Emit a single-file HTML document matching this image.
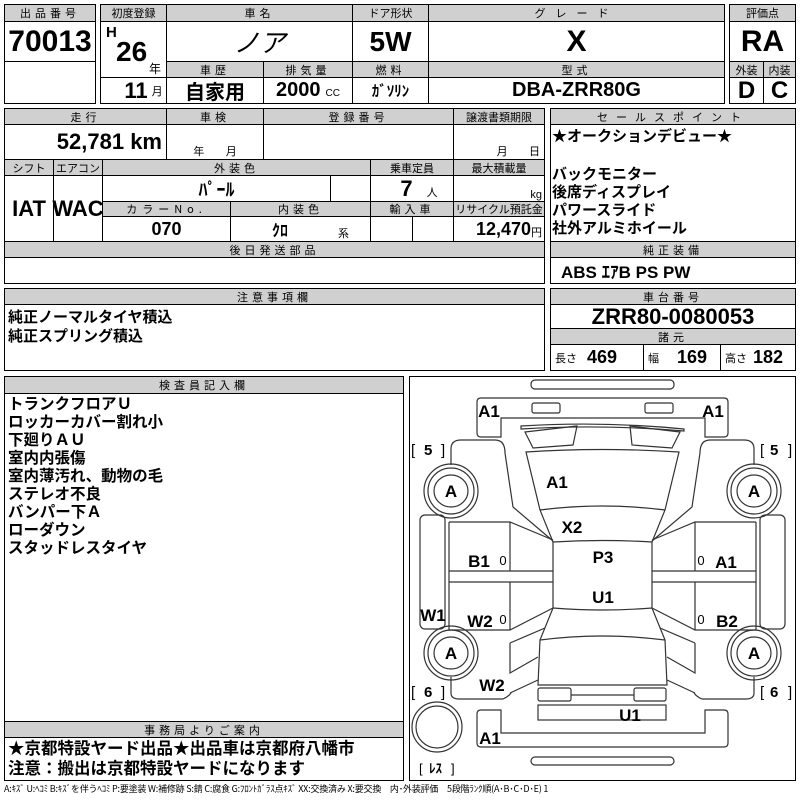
<!DOCTYPE html>
<html><head><meta charset="utf-8"><style>
*{box-sizing:border-box;margin:0;padding:0}
body{width:800px;height:800px;background:#fff;position:relative;overflow:hidden;font-family:"Liberation Sans","Noto Sans CJK JP",sans-serif;color:#000}
.c{position:absolute;border:1px solid #000;display:flex;align-items:center;justify-content:center;background:#fff}
.h{background:#d0d0d0;font-size:11px;letter-spacing:4px;font-family:"Noto Sans CJK JP",sans-serif}
.n{font-family:"Liberation Sans Narrow","Liberation Sans","Noto Sans CJK JP",sans-serif;font-weight:bold}
.j{font-family:"Liberation Sans","Noto Sans CJK JP",sans-serif;font-weight:bold}
.t{position:absolute;white-space:nowrap}
</style></head><body>
<!-- top -->
<div class="c h" style="left:4px;top:4px;width:92px;height:18px">出品番号</div>
<div class="c n" style="left:4px;top:21px;width:92px;height:41px;font-size:30px">70013</div>
<div class="c" style="left:4px;top:61px;width:92px;height:43px"></div>

<div class="c h" style="left:100px;top:4px;width:67px;height:18px;letter-spacing:0">初度登録</div>
<div class="c h" style="left:166px;top:4px;width:187px;height:18px">車名</div>
<div class="c h" style="left:352px;top:4px;width:77px;height:18px;letter-spacing:0">ドア形状</div>
<div class="c h" style="left:428px;top:4px;width:297px;height:18px;letter-spacing:10px">グレード</div>
<div class="c" style="left:100px;top:21px;width:67px;height:57px"></div>
<div class="t n" style="left:106px;top:24px;font-size:15px">H</div>
<div class="t n" style="left:116px;top:36px;font-size:28px">26</div>
<div class="t j" style="left:149px;top:60px;font-size:12px;font-weight:normal">年</div>
<div class="c" style="left:100px;top:77px;width:67px;height:27px"><span class="n" style="font-size:22px;margin-left:20px">11</span><span style="font-size:11px;margin-left:4px">月</span></div>
<div class="c j" style="left:166px;top:21px;width:187px;height:41px;font-size:26px;font-style:italic;font-weight:normal">ノア</div>
<div class="c n" style="left:352px;top:21px;width:77px;height:41px;font-size:28px">5W</div>
<div class="c n" style="left:428px;top:21px;width:297px;height:41px;font-size:30px">X</div>
<div class="c h" style="left:166px;top:61px;width:98px;height:17px">車歴</div>
<div class="c h" style="left:263px;top:61px;width:90px;height:17px">排気量</div>
<div class="c h" style="left:352px;top:61px;width:77px;height:17px">燃料</div>
<div class="c h" style="left:428px;top:61px;width:297px;height:17px">型式</div>
<div class="c j" style="left:166px;top:77px;width:98px;height:27px;font-size:20px">自家用</div>
<div class="c" style="left:263px;top:77px;width:90px;height:27px"><span class="n" style="font-size:20px">2000</span><span style="font-size:10px;margin-left:5px;margin-top:6px">CC</span></div>
<div class="c j" style="left:352px;top:77px;width:77px;height:27px;font-size:15px">ｶﾞｿﾘﾝ</div>
<div class="c n" style="left:428px;top:77px;width:297px;height:27px;font-size:20px">DBA-ZRR80G</div>
<div class="c h" style="left:729px;top:4px;width:67px;height:18px;letter-spacing:0">評価点</div>
<div class="c n" style="left:729px;top:21px;width:67px;height:41px;font-size:30px">RA</div>
<div class="c h" style="left:729px;top:61px;width:35px;height:17px;letter-spacing:0">外装</div>
<div class="c h" style="left:763px;top:61px;width:33px;height:17px;letter-spacing:0">内装</div>
<div class="c n" style="left:729px;top:77px;width:35px;height:27px;font-size:24px">D</div>
<div class="c n" style="left:763px;top:77px;width:33px;height:27px;font-size:24px">C</div>

<!-- middle -->
<div class="c h" style="left:4px;top:108px;width:163px;height:17px">走行</div>
<div class="c h" style="left:166px;top:108px;width:98px;height:17px">車検</div>
<div class="c h" style="left:263px;top:108px;width:191px;height:17px">登録番号</div>
<div class="c h" style="left:453px;top:108px;width:92px;height:17px;letter-spacing:0">譲渡書類期限</div>
<div class="c" style="left:4px;top:124px;width:163px;height:36px;justify-content:flex-end;padding-right:4px"><span class="n" style="font-size:22px">52,781 km</span></div>
<div class="c" style="left:166px;top:124px;width:98px;height:36px;align-items:flex-end;font-size:11px">年&nbsp;&nbsp;&nbsp;&nbsp;&nbsp;&nbsp;&nbsp;月</div>
<div class="c" style="left:263px;top:124px;width:191px;height:36px"></div>
<div class="c" style="left:453px;top:124px;width:92px;height:36px;align-items:flex-end;justify-content:flex-end;padding-right:4px;font-size:11px">月&nbsp;&nbsp;&nbsp;&nbsp;&nbsp;&nbsp;&nbsp;日</div>
<div class="c h" style="left:4px;top:159px;width:50px;height:17px;letter-spacing:0">シフト</div>
<div class="c h" style="left:53px;top:159px;width:50px;height:17px;letter-spacing:0">エアコン</div>
<div class="c h" style="left:102px;top:159px;width:269px;height:17px">外装色</div>
<div class="c h" style="left:370px;top:159px;width:84px;height:17px;letter-spacing:0">乗車定員</div>
<div class="c h" style="left:453px;top:159px;width:92px;height:17px;letter-spacing:0">最大積載量</div>
<div class="c n" style="left:4px;top:175px;width:50px;height:67px;font-size:22px">IAT</div>
<div class="c n" style="left:53px;top:175px;width:50px;height:67px;font-size:22px">WAC</div>
<div class="c j" style="left:102px;top:175px;width:229px;height:27px;font-size:18px">ﾊﾟｰﾙ</div>
<div class="c" style="left:330px;top:175px;width:41px;height:27px"></div>
<div class="c" style="left:370px;top:175px;width:84px;height:27px"><span class="n" style="font-size:22px;margin-left:14px">7</span><span style="font-size:11px;margin-left:14px;margin-top:6px">人</span></div>
<div class="c" style="left:453px;top:175px;width:92px;height:27px;justify-content:flex-end;align-items:flex-end;padding-right:2px;font-size:11px">kg</div>
<div class="c h" style="left:102px;top:201px;width:129px;height:16px;letter-spacing:5px">カラーNo.</div>
<div class="c h" style="left:230px;top:201px;width:141px;height:16px">内装色</div>
<div class="c h" style="left:370px;top:201px;width:84px;height:16px">輸入車</div>
<div class="c h" style="left:453px;top:201px;width:92px;height:16px;letter-spacing:0">リサイクル預託金</div>
<div class="c n" style="left:102px;top:216px;width:129px;height:26px;font-size:18px">070</div>
<div class="c" style="left:230px;top:216px;width:141px;height:26px"><span class="j" style="font-size:16px;margin-left:20px">ｸﾛ</span><span style="font-size:11px;margin-left:50px;margin-top:8px">系</span></div>
<div class="c" style="left:370px;top:216px;width:43px;height:26px"></div>
<div class="c" style="left:412px;top:216px;width:42px;height:26px"></div>
<div class="c" style="left:453px;top:216px;width:92px;height:26px;justify-content:flex-end;padding-right:2px"><span class="n" style="font-size:18px">12,470</span><span style="font-size:11px;margin-top:6px">円</span></div>
<div class="c h" style="left:4px;top:241px;width:541px;height:17px">後日発送部品</div>
<div class="c" style="left:4px;top:257px;width:541px;height:27px"></div>

<div class="c h" style="left:550px;top:108px;width:246px;height:17px;letter-spacing:8px">セールスポイント</div>
<div class="c" style="left:550px;top:124px;width:246px;height:118px"></div>
<div class="t j" style="left:552px;top:128px;font-size:15px;line-height:18px">★オークションデビュー★</div>
<div class="t j" style="left:552px;top:166px;font-size:15px;line-height:18px">バックモニター<br>後席ディスプレイ<br>パワースライド<br>社外アルミホイール</div>
<div class="c h" style="left:550px;top:241px;width:246px;height:17px">純正装備</div>
<div class="c" style="left:550px;top:257px;width:246px;height:27px;justify-content:flex-start;padding-left:10px"><span class="n" style="font-size:17px">ABS ｴｱB PS PW</span></div>

<!-- third -->
<div class="c h" style="left:4px;top:288px;width:541px;height:17px">注意事項欄</div>
<div class="c" style="left:4px;top:304px;width:541px;height:67px"></div>
<div class="t j" style="left:8px;top:308px;font-size:15px;line-height:19px">純正ノーマルタイヤ積込<br>純正スプリング積込</div>
<div class="c h" style="left:550px;top:288px;width:246px;height:17px">車台番号</div>
<div class="c n" style="left:550px;top:304px;width:246px;height:25px;font-size:22px">ZRR80-0080053</div>
<div class="c h" style="left:550px;top:328px;width:246px;height:17px">諸元</div>
<div class="c" style="left:550px;top:344px;width:94px;height:27px;justify-content:flex-start;padding-left:4px"><span style="font-size:11px">長さ</span><span class="n" style="font-size:18px;margin-left:10px">469</span></div>
<div class="c" style="left:643px;top:344px;width:78px;height:27px;justify-content:flex-start;padding-left:4px"><span style="font-size:11px">幅</span><span class="n" style="font-size:18px;margin-left:18px">169</span></div>
<div class="c" style="left:720px;top:344px;width:76px;height:27px;justify-content:flex-start;padding-left:4px"><span style="font-size:11px">高さ</span><span class="n" style="font-size:18px;margin-left:6px">182</span></div>

<!-- bottom left -->
<div class="c" style="left:4px;top:376px;width:400px;height:405px"></div>
<div class="c h" style="left:4px;top:376px;width:400px;height:18px">検査員記入欄</div>
<div class="t j" style="left:8px;top:396px;font-size:15.5px;line-height:18px">トランクフロアＵ<br>ロッカーカバー割れ小<br>下廻りＡＵ<br>室内内張傷<br>室内薄汚れ、動物の毛<br>ステレオ不良<br>バンパー下Ａ<br>ローダウン<br>スタッドレスタイヤ</div>
<div class="c h" style="left:4px;top:721px;width:400px;height:17px">事務局よりご案内</div>
<div class="t j" style="left:8px;top:739px;font-size:16.5px;line-height:20px">★京都特設ヤード出品★出品車は京都府八幡市<br>注意：搬出は京都特設ヤードになります</div>

<!-- diagram -->
<svg style="position:absolute;left:405px;top:375px" width="395" height="410" viewBox="0 0 395 410">
<g fill="none" stroke="#000" stroke-width="1">
<rect x="4.5" y="1.5" width="386" height="404"/>
</g>
<g fill="none" stroke="#333" stroke-width="1.2">
<rect x="126" y="5" width="143" height="9" rx="4"/>
<rect x="126" y="382" width="143" height="8" rx="4"/>
<path d="M76,23 H319 Q323,23 323,27 V58 Q323,62 319,62 H300 V43 H96 V62 H76 Q72,62 72,58 V27 Q72,23 76,23Z"/>
<rect x="127" y="28" width="28" height="10" rx="2"/>
<rect x="240" y="28" width="28" height="10" rx="2"/>
<path d="M76,335 H96 V358 H300 V335 H319 Q323,335 323,339 V368 Q323,372 319,372 H76 Q72,372 72,368 V339 Q72,335 76,335Z"/>
<path d="M116,51 Q197,46 279,54 L279,56 Q197,49 116,54Z"/>
<path d="M120,57 L172,51 L168,70 L128,73Z"/>
<path d="M225,51 L275,57 L267,73 L227,70Z"/>
<path d="M121,77 Q197,72 274,77 L260,135 L247,167 Q197,164 148,167 L135,135Z"/>
<path d="M135,135 Q197,127 260,135"/>
<path d="M148,167 V233 M247,167 V233"/>
<path d="M148,233 Q197,237 247,233 L260,265 L262,310 L133,310 L135,265Z"/>
<path d="M135,265 Q197,257 260,265"/>
<rect x="133" y="313" width="33" height="13" rx="2"/>
<rect x="229" y="313" width="32" height="13" rx="2"/>
<path d="M166,320 H229"/>
<rect x="133" y="330" width="128" height="15"/>
<path d="M46,90 V74 Q46,65 56,65 H90 Q100,65 100,78 L108,132 L148,166"/>
<path d="M44,147 H105 L148,165 M44,196 H148 M44,207 H148 M44,255 H105 L148,233 M105,147 V196 M105,207 V255 M44,147 V255"/>
<path d="M105,268 L140,253 M105,268 V298 L133,282 M105,318 L133,305 M46,302 V318 Q46,324 54,324 H98 Q103,322 106,318"/>
<rect x="15" y="140" width="25" height="114" rx="5"/>
<circle cx="46" cy="116" r="27"/><circle cx="46" cy="116" r="23"/><ellipse cx="46" cy="116" rx="17" ry="16"/>
<circle cx="46" cy="278" r="27"/><circle cx="46" cy="278" r="23"/><ellipse cx="46" cy="278" rx="17" ry="16"/>
<path d="M349,90 V74 Q349,65 339,65 H305 Q295,65 295,78 L287,132 L247,166"/>
<path d="M351,147 H290 L247,165 M351,196 H247 M351,207 H247 M351,255 H290 L247,233 M290,147 V196 M290,207 V255 M351,147 V255"/>
<path d="M290,268 L255,253 M290,268 V298 L262,282 M290,318 L262,305 M349,302 V318 Q349,324 341,324 H297 Q292,322 289,318"/>
<rect x="355" y="140" width="25" height="114" rx="5"/>
<circle cx="349" cy="116" r="27"/><circle cx="349" cy="116" r="23"/><ellipse cx="349" cy="116" rx="17" ry="16"/>
<circle cx="349" cy="278" r="27"/><circle cx="349" cy="278" r="23"/><ellipse cx="349" cy="278" rx="17" ry="16"/>
<circle cx="32" cy="352" r="25"/><circle cx="32" cy="352" r="21"/>
</g>
<g font-family="Liberation Sans, sans-serif" font-weight="bold" font-size="17" fill="#000" text-anchor="middle">
<text x="84" y="42">A1</text><text x="308" y="42">A1</text>
<text x="152" y="113">A1</text><text x="167" y="158">X2</text>
<text x="198" y="188">P3</text><text x="198" y="228">U1</text>
<text x="74" y="192">B1</text><text x="321" y="193">A1</text>
<text x="28" y="246">W1</text><text x="75" y="252">W2</text><text x="322" y="252">B2</text>
<text x="87" y="316">W2</text><text x="225" y="346">U1</text><text x="85" y="369">A1</text>
<text x="46" y="122">A</text><text x="349" y="122">A</text>
<text x="46" y="284">A</text><text x="349" y="284">A</text>
</g>
<g font-family="Liberation Sans Narrow, Liberation Sans, sans-serif" font-size="13" fill="#000" text-anchor="middle">
<text x="98" y="190">0</text><text x="296" y="190">0</text>
<text x="98" y="249">0</text><text x="296" y="249">0</text>
</g>
<g font-family="Liberation Sans, Noto Sans CJK JP, sans-serif" font-size="15" fill="#000">
<text x="6" y="80">[</text><text x="19" y="80" font-weight="bold">5</text><text x="36" y="80">]</text>
<text x="355" y="80">[</text><text x="365" y="80" font-weight="bold">5</text><text x="383" y="80">]</text>
<text x="6" y="322">[</text><text x="19" y="322" font-weight="bold">6</text><text x="36" y="322">]</text>
<text x="355" y="322">[</text><text x="365" y="322" font-weight="bold">6</text><text x="383" y="322">]</text>
<text x="14" y="398" font-size="13">[</text><text x="24" y="398" font-size="13" font-weight="bold">ﾚｽ</text><text x="46" y="398" font-size="13">]</text>
</g>
</svg>

<div class="t" style="left:4px;top:782px;font-size:9px;font-family:'Noto Sans CJK JP',sans-serif;letter-spacing:-0.2px">A:ｷｽﾞ U:ﾍｺﾐ B:ｷｽﾞを伴うﾍｺﾐ P:要塗装 W:補修跡 S:錆 C:腐食 G:ﾌﾛﾝﾄｶﾞﾗｽ点ｷｽﾞ XX:交換済み X:要交換　内･外装評価　5段階ﾗﾝｸ順(A･B･C･D･E) 1</div>
</body></html>
